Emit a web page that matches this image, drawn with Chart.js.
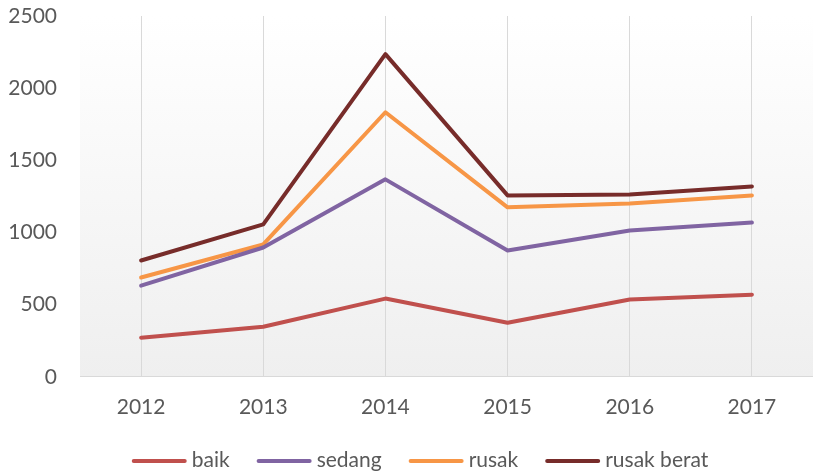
<!DOCTYPE html>
<html>
<head>
<meta charset="utf-8">
<script src="https://cdn.jsdelivr.net/npm/chart.js@4/dist/chart.umd.min.js"></script>
<style>
html,body{margin:0;padding:0;background:#fff;}
#wrap{width:813px;height:476px;position:relative;}
</style>
</head>
<body>
<div id="wrap"><canvas id="c" width="813" height="476"></canvas></div>
<script>
const categories = ["2012","2013","2014","2015","2016","2017"];
const baik = [271, 347, 542, 375, 535, 569];
const sedang = [632, 896, 1368, 875, 1014, 1069];
const rusak = [688, 917, 1833, 1174, 1201, 1257];
const rusakBerat = [806, 1056, 2236, 1257, 1264, 1319];
const yTicks = [0, 500, 1000, 1500, 2000, 2500];

const FONT = "Lato, 'Open Sans', sans-serif";
const TEXT = '#595959';

const bgPlugin = {
  id: 'plotBg',
  beforeDraw(chart) {
    const {ctx, chartArea: a} = chart;
    const g = ctx.createLinearGradient(0, a.top, 0, a.bottom);
    g.addColorStop(0, '#ffffff');
    g.addColorStop(1, '#efefef');
    ctx.save();
    ctx.fillStyle = g;
    ctx.fillRect(a.left, a.top, a.right - a.left, a.bottom - a.top);
    ctx.restore();
  }
};

// Legend drawn from the chart's own datasets
const legendPlugin = {
  id: 'lineLegend',
  afterDraw(chart) {
    const ctx = chart.ctx;
    const sw = 55, gapText = 5, gapItem = 27, y = 460, cx = 420;
    ctx.save();
    ctx.font = '21px ' + FONT;
    const items = chart.data.datasets.map(d => ({label: d.label, color: d.borderColor, w: ctx.measureText(d.label).width}));
    let total = 0;
    items.forEach((it, i) => { total += sw + gapText + it.w + (i < items.length - 1 ? gapItem : 0); });
    let x = cx - total / 2;
    ctx.textBaseline = 'middle';
    ctx.textAlign = 'left';
    items.forEach(it => {
      ctx.strokeStyle = it.color;
      ctx.lineWidth = 4;
      ctx.lineCap = 'round';
      ctx.beginPath();
      ctx.moveTo(x + 2, y + 1);
      ctx.lineTo(x + sw - 2, y + 1);
      ctx.stroke();
      ctx.fillStyle = TEXT;
      ctx.fillText(it.label, x + sw + gapText, y);
      x += sw + gapText + it.w + gapItem;
    });
    ctx.restore();
  }
};

function ds(label, data, color) {
  return {label, data, borderColor: color, backgroundColor: color, borderWidth: 4,
    pointRadius: 0, tension: 0, borderJoinStyle: 'round', borderCapStyle: 'round', fill: false};
}

new Chart(document.getElementById('c'), {
  type: 'line',
  data: {
    labels: categories,
    datasets: [
      ds('baik', baik, '#C0504D'),
      ds('sedang', sedang, '#8064A2'),
      ds('rusak', rusak, '#F79646'),
      ds('rusak berat', rusakBerat, '#772C2A')
    ]
  },
  options: {
    responsive: false,
    animation: false,
    layout: {padding: {top: 16, right: 0, left: 0, bottom: 38}},
    plugins: {
      tooltip: {enabled: false},
      legend: {display: false}
    },
    scales: {
      x: {
        offset: true,
        grid: {offset: false, color: '#d9d9d9', lineWidth: 1, drawTicks: false},
        border: {display: true, color: '#d9d9d9'},
        ticks: {color: TEXT, font: {family: FONT, size: 21}, padding: 18}
      },
      y: {
        min: 0, max: 2500,
        afterBuildTicks(scale) { scale.ticks = yTicks.map(v => ({value: v})); },
        afterFit(scale) { scale.width = 80; scale.paddingTop = 0; scale.paddingBottom = 0; },
        grid: {display: false, drawTicks: false},
        border: {display: false},
        ticks: {color: TEXT, font: {family: FONT, size: 21}, padding: 23,
          callback: v => String(v)}
      }
    }
  },
  plugins: [bgPlugin, legendPlugin]
});
</script>
</body>
</html>
